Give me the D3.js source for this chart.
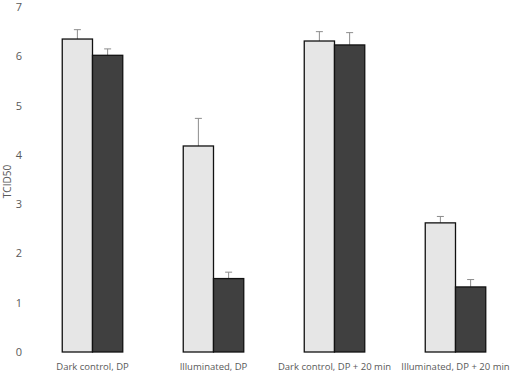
<!DOCTYPE html>
<html>
<head>
<meta charset="utf-8">
<script src="https://cdn.jsdelivr.net/npm/d3@7"></script>
<style>
  body { margin: 0; background: #fff; }
  text { font-family: "Open Sans", sans-serif; fill: #595959; }
</style>
</head>
<body>
<div id="chart"></div>
<script>
// data
const groups = ["Dark control, DP", "Illuminated, DP", "Dark control, DP + 20 min", "Illuminated, DP + 20 min"];
const seriesA = [6.35, 4.18, 6.31, 2.62];   // light bars
const seriesB = [6.02, 1.49, 6.23, 1.32];   // dark bars
const errA = [0.19, 0.56, 0.19, 0.13];
const errB = [0.13, 0.13, 0.25, 0.15];
const yTicks = [0, 1, 2, 3, 4, 5, 6, 7];

const W = 512, H = 374;
const margin = { TOP: 7, BOTTOM: 22, LEFT: 32, RIGHT: -4 };
const w = W - margin.LEFT - margin.RIGHT;
const h = H - margin.TOP - margin.BOTTOM;

const svg = d3.select("#chart").append("svg")
  .attr("width", W).attr("height", H)
  .append("g")
  .attr("transform", `translate(${margin.LEFT}, ${margin.TOP})`);

const xScale = d3.scaleBand().domain(groups).range([0, w]).paddingInner(0.5).paddingOuter(0.25);
const inner = d3.scaleBand().domain([0, 1]).range([0, xScale.bandwidth()]);
const yScale = d3.scaleLinear().domain([0, 7]).range([h, 0]);

// y axis
const yAxis = svg.append("g")
  .call(d3.axisLeft(yScale).tickValues(yTicks).tickFormat(d3.format("d")).tickSize(0).tickPadding(10));
yAxis.select(".domain").remove();
yAxis.selectAll("text").style("font-size", "11px").style("fill", "#595959");

// x axis
const xAxis = svg.append("g")
  .attr("transform", `translate(0, ${h})`)
  .call(d3.axisBottom(xScale).tickSize(0).tickPadding(11));
xAxis.select(".domain").remove();
xAxis.selectAll("text").style("font-size", "9.5px").style("fill", "#595959");

// y label
svg.append("text")
  .attr("transform", "rotate(-90)")
  .attr("x", -h / 2 - 2)
  .attr("y", -21)
  .attr("text-anchor", "middle")
  .style("font-size", "10px")
  .text("TCID50");

const series = [
  { vals: seriesA, errs: errA, fill: "#e6e6e6" },
  { vals: seriesB, errs: errB, fill: "#404040" }
];

series.forEach((s, si) => {
  const g = svg.append("g");
  // error bars
  g.selectAll("line.err")
    .data(groups)
    .enter().append("line")
    .attr("x1", d => xScale(d) + inner(si) + inner.bandwidth() / 2)
    .attr("x2", d => xScale(d) + inner(si) + inner.bandwidth() / 2)
    .attr("y1", (d, i) => yScale(s.vals[i]))
    .attr("y2", (d, i) => yScale(s.vals[i] + s.errs[i]))
    .attr("stroke", "#8c8c8c").attr("stroke-width", 1);
  g.selectAll("line.cap")
    .data(groups)
    .enter().append("line")
    .attr("x1", d => xScale(d) + inner(si) + inner.bandwidth() / 2 - 3.5)
    .attr("x2", d => xScale(d) + inner(si) + inner.bandwidth() / 2 + 3.5)
    .attr("y1", (d, i) => yScale(s.vals[i] + s.errs[i]))
    .attr("y2", (d, i) => yScale(s.vals[i] + s.errs[i]))
    .attr("stroke", "#8c8c8c").attr("stroke-width", 1);
  g.selectAll("rect")
    .data(groups)
    .enter().append("rect")
    .attr("x", d => xScale(d) + inner(si))
    .attr("y", (d, i) => yScale(s.vals[i]))
    .attr("width", inner.bandwidth())
    .attr("height", (d, i) => yScale(0) - yScale(s.vals[i]))
    .attr("fill", s.fill)
    .attr("stroke", "#111").attr("stroke-width", 1.3);
});
</script>
</body>
</html>
